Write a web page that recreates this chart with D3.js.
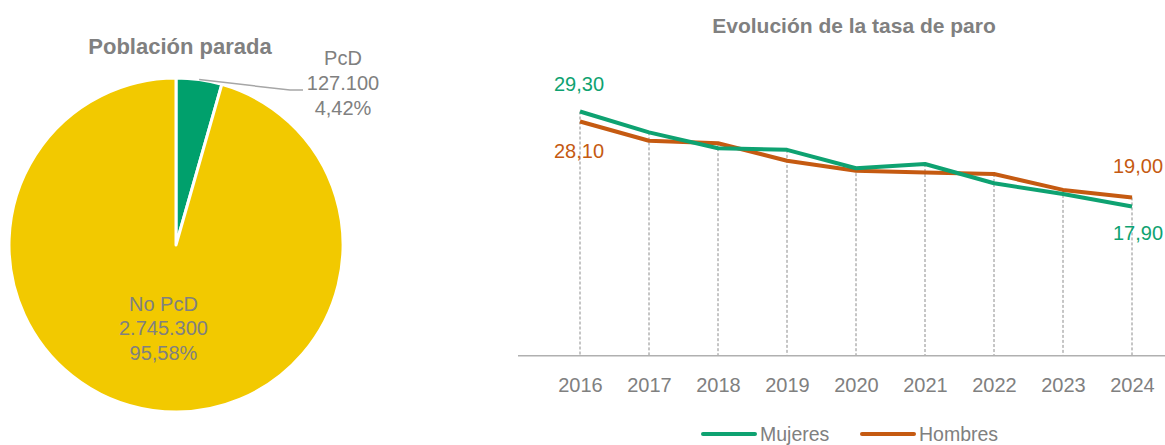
<!DOCTYPE html>
<html><head><meta charset="utf-8">
<script src="https://cdn.jsdelivr.net/npm/d3@7"></script>
<style>
html,body{margin:0;padding:0;background:#fff;overflow:hidden;}
svg{display:block;font-family:"Liberation Sans",Arial,sans-serif;}
</style></head>
<body>
<svg id="c" width="1165" height="445"></svg>
<script>
// ---- Data ----
const pieCategories = ["PcD", "No PcD"];
const pieValues = [127100, 2745300];
const piePercents = ["4,42%", "95,58%"];
const pieValueLabels = ["127.100", "2.745.300"];

const years = ["2016","2017","2018","2019","2020","2021","2022","2023","2024"];
const mujeres = [29.3, 26.8, 24.9, 24.7, 22.5, 23.0, 20.7, 19.4, 17.9];
const hombres = [28.1, 25.8, 25.5, 23.4, 22.2, 22.0, 21.8, 19.9, 19.0];
const seriesNames = ["Mujeres", "Hombres"];

// ---- Styles ----
const GREEN = "#0ea271", ORANGE = "#c55a11", YELLOW = "#f2c900", PIEGREEN = "#00a06c", GRAY = "#808080";
const FS = 20;
const svg = d3.select("#c");

// ---- Pie ----
const cx = 176, cy = 245, R = 167;
svg.append("text").attr("x", 180).attr("y", 53.5).attr("text-anchor","middle")
  .attr("font-size", 22).attr("font-weight","bold").attr("fill", GRAY).text("Población parada");

const pie = d3.pie().sort(null).value(d => d)(pieValues);
const arc = d3.arc().innerRadius(0).outerRadius(R);
const g = svg.append("g").attr("transform", `translate(${cx},${cy})`);
g.selectAll("path").data(pie).join("path")
  .attr("d", arc).attr("fill", (d,i) => i === 0 ? PIEGREEN : YELLOW)
  .attr("stroke", "#fff").attr("stroke-width", 3).attr("stroke-linejoin","round");

// leader line for small slice
const a0 = (pie[0].startAngle + pie[0].endAngle) / 2;
const p0 = [R * Math.sin(a0), -R * Math.cos(a0)];
g.append("polyline")
  .attr("points", [p0, [114, -155], [127, -155]].map(p => p.join(",")).join(" "))
  .attr("fill","none").attr("stroke", "#a6a6a6").attr("stroke-width", 1.5);

const lbl1 = g.append("text").attr("text-anchor","middle").attr("font-size", FS).attr("fill", GRAY);
[pieCategories[0], pieValueLabels[0], piePercents[0]].forEach((t,i) =>
  lbl1.append("tspan").attr("x", 167).attr("y", -180 + i*25).text(t));

const c1 = d3.arc().innerRadius(0).outerRadius(R).centroid(pie[1]);
const lbl2 = g.append("text").attr("text-anchor","middle").attr("font-size", FS).attr("fill", GRAY);
[pieCategories[1], pieValueLabels[1], piePercents[1]].forEach((t,i) =>
  lbl2.append("tspan").attr("x", c1[0] - 1).attr("y", c1[1] - 17 + i*24.7).text(t));

// ---- Line chart ----
const x = d3.scalePoint().domain(years).range([580, 1132]);
const y = d3.scaleLinear().domain([0, 35]).range([355.8, 64]);

svg.append("text").attr("x", 854).attr("y", 33).attr("text-anchor","middle")
  .attr("font-size", 21).attr("font-weight","bold").attr("fill", GRAY).text("Evolución de la tasa de paro");

// drop lines
svg.append("g").selectAll("line").data(years).join("line")
  .attr("x1", d => x(d)).attr("x2", d => x(d))
  .attr("y1", (d,i) => y(Math.max(mujeres[i], hombres[i]))).attr("y2", y(0))
  .attr("stroke", "#8c8c8c").attr("stroke-width", 1).attr("stroke-dasharray", "3,2");

// axis
const xAxis = d3.axisBottom(x).tickSize(0).tickPadding(0);
const ax = svg.append("g").attr("transform", `translate(0,${y(0)})`).call(xAxis);
ax.select(".domain").remove();
ax.append("line").attr("x1", 518).attr("x2", 1165).attr("y1", 0).attr("y2", 0)
  .attr("stroke", "#b0b0b0").attr("stroke-width", 1.5);
ax.selectAll(".tick text").attr("y", 35.8).attr("dy", null).attr("font-size", FS).attr("fill", GRAY)
  .attr("font-family", "Liberation Sans, Arial, sans-serif");

const line = d3.line().x((d,i) => x(years[i])).y(d => y(d));
svg.append("path").datum(hombres).attr("d", line).attr("fill","none")
  .attr("stroke", ORANGE).attr("stroke-width", 4).attr("stroke-linejoin","round");
svg.append("path").datum(mujeres).attr("d", line).attr("fill","none")
  .attr("stroke", GREEN).attr("stroke-width", 4).attr("stroke-linejoin","round");

const fmt = v => v.toFixed(2).replace(".", ",");
const vlabels = [
  {v: mujeres[0], x: x(years[0]) - 1, y: y(mujeres[0]) - 21, c: GREEN},
  {v: hombres[0], x: x(years[0]) - 1, y: y(hombres[0]) + 36.5, c: ORANGE},
  {v: hombres[8], x: x(years[8]) + 6, y: y(hombres[8]) - 24, c: ORANGE},
  {v: mujeres[8], x: x(years[8]) + 6, y: y(mujeres[8]) + 33, c: GREEN}
];
svg.append("g").selectAll("text").data(vlabels).join("text")
  .attr("x", d => d.x).attr("y", d => d.y).attr("text-anchor","middle")
  .attr("font-size", FS).attr("fill", d => d.c).text(d => fmt(d.v));

// legend
const leg = svg.append("g");
[[seriesNames[0], GREEN, 703], [seriesNames[1], ORANGE, 862]].forEach(([n, c, lx]) => {
  leg.append("line").attr("x1", lx).attr("x2", lx + 52).attr("y1", 434).attr("y2", 434)
    .attr("stroke", c).attr("stroke-width", 4).attr("stroke-linecap","round");
  leg.append("text").attr("x", lx + 57).attr("y", 440.5).attr("font-size", 19.5).attr("fill", GRAY).text(n);
});
</script>
</body></html>
